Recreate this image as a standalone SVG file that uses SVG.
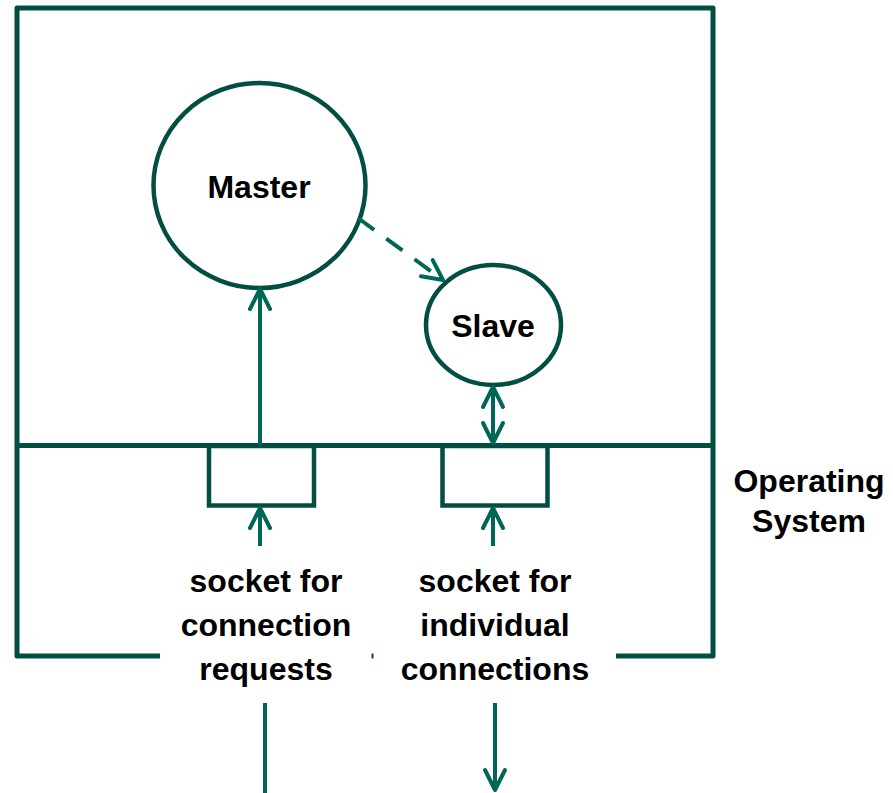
<svg xmlns="http://www.w3.org/2000/svg" width="893" height="793" viewBox="0 0 893 793">
  <style>
    .frame { fill: none; stroke: #034e42; stroke-width: 5; stroke-linejoin: round; }
    .shape { fill: #ffffff; stroke: #034e42; stroke-width: 4.5; }
    .link { fill: none; stroke: #006657; stroke-width: 4; }
    .dash { stroke-dasharray: 20 15; }
    .label { font-family: "Liberation Sans", Arial, sans-serif; font-weight: bold; font-size: 32px; fill: #000000; text-anchor: middle; }
  </style>
  <defs>
    <marker id="head" viewBox="0 0 26 26" refX="23" refY="13" markerWidth="26" markerHeight="26" markerUnits="userSpaceOnUse" orient="auto-start-reverse">
      <path d="M3,3 L23,13 L3,23" fill="none" stroke="#006657" stroke-width="4" stroke-linecap="round" stroke-linejoin="round"/>
    </marker>
  </defs>
  <rect width="893" height="793" fill="#ffffff"/>

  <!-- host frame with the operating-system boundary -->
  <g id="host">
    <path class="frame" d="M160,656 L17,656 L17,8 L713,8 L713,656 L616,656"/>
    <line class="frame" x1="371.5" y1="656" x2="373.5" y2="656" stroke-linecap="butt"/>
    <line class="frame" x1="17" y1="445.5" x2="713" y2="445.5"/>
  </g>

  <g id="master">
    <ellipse class="shape" cx="259.5" cy="185.5" rx="106" ry="102.5"/>
    <text class="label" x="259" y="198">Master</text>
  </g>

  <g id="slave">
    <ellipse class="shape" cx="493.5" cy="325" rx="67.5" ry="60"/>
    <text class="label" x="493" y="337">Slave</text>
  </g>

  <g id="socket-requests">
    <rect class="shape" x="209" y="446" width="105" height="59.5"/>
  </g>

  <g id="socket-connections">
    <rect class="shape" x="442.5" y="446" width="105" height="59.5"/>
  </g>

  <g id="os-label">
    <text class="label" x="809" y="492">Operating</text>
    <text class="label" x="809" y="532">System</text>
  </g>

  <g id="label-requests">
    <text class="label" x="266" y="592">socket for</text>
    <text class="label" x="266" y="636">connection</text>
    <text class="label" x="266" y="680">requests</text>
  </g>

  <g id="label-connections">
    <text class="label" x="495" y="592">socket for</text>
    <text class="label" x="495" y="636">individual</text>
    <text class="label" x="495" y="680">connections</text>
  </g>

  <!-- connectors -->
  <g id="connectors">
    <line class="link" x1="260" y1="445" x2="260" y2="289" marker-end="url(#head)"/>
    <line class="link dash" x1="358" y1="218" x2="443" y2="280" marker-end="url(#head)"/>
    <line class="link" x1="493" y1="387" x2="493" y2="443" marker-start="url(#head)" marker-end="url(#head)"/>
    <line class="link" x1="260" y1="546" x2="260" y2="508" marker-end="url(#head)"/>
    <line class="link" x1="493" y1="546" x2="493" y2="508" marker-end="url(#head)"/>
    <line class="link" x1="265" y1="703" x2="265" y2="793"/>
    <line class="link" x1="495" y1="703" x2="495" y2="790" marker-end="url(#head)"/>
  </g>
</svg>
